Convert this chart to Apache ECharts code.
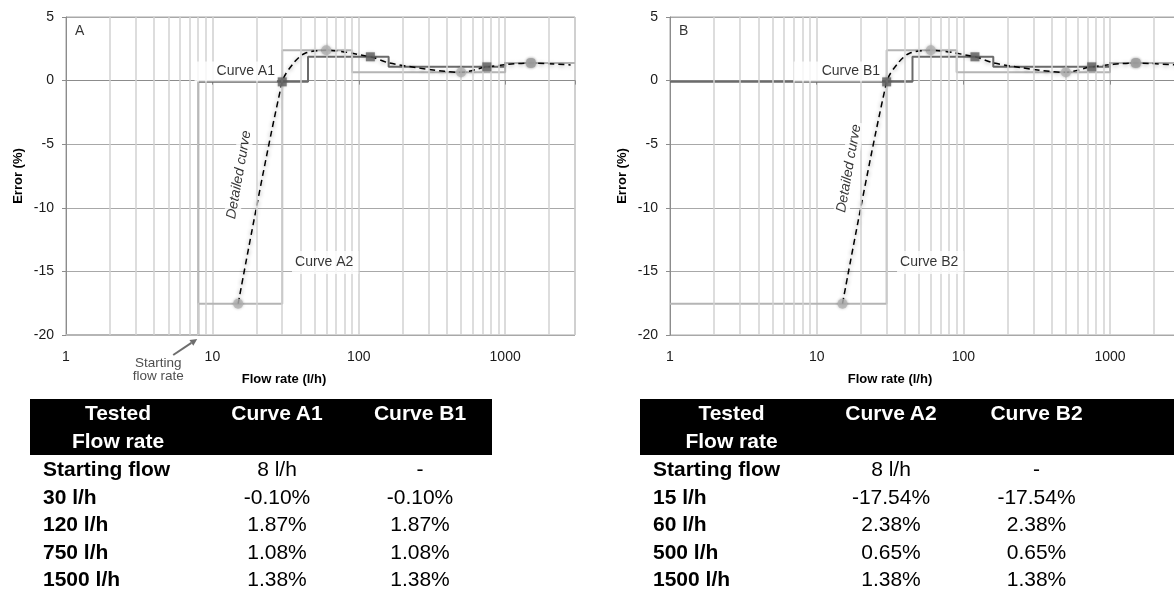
<!DOCTYPE html>
<html>
<head>
<meta charset="utf-8">
<script src="https://cdn.jsdelivr.net/npm/echarts/dist/echarts.min.js"></script>
<style>
html,body{margin:0;padding:0;background:#fff;overflow:hidden;}
#chart{position:absolute;left:0;top:0;width:1174px;height:589px;}
.tbl{position:absolute;top:399px;border-collapse:collapse;table-layout:fixed;font-family:'Liberation Sans',Arial,sans-serif;font-size:21px;color:#000;}
.tbl th{background:#000;color:#fff;font-weight:bold;line-height:28px;height:56px;vertical-align:top;padding:0;text-align:center;white-space:nowrap;}
.tbl td{line-height:27.5px;height:27.5px;padding:0;text-align:center;white-space:nowrap;}
.tbl td.first{text-align:left;padding-left:13px;font-weight:bold;}
</style>
</head>
<body>
<div id="chart"></div>
<table class="tbl" id="tblLeft" style="left:30px;width:462px;"></table>
<table class="tbl" id="tblRight" style="left:640px;width:534px;"></table>
<script>
// ---------- data ----------
const flowLabelTicks = [1, 10, 100, 1000];
const minorFlowGrid = [2,3,4,5,6,7,8,9,20,30,40,50,60,70,80,90,200,300,400,500,600,700,800,900,2000];

// step curves: boundaries (l/h) and error level (%) valid from each boundary
const curveA1Flow = [1, 8, 45, 160, 1000, 3000];
const curveA1Err  = [-20, -0.10, 1.87, 1.08, 1.38, 1.38];
const curveA2Flow = [1, 8, 30, 90, 1000, 3000];
const curveA2Err  = [-20, -17.54, 2.38, 0.65, 1.38, 1.38];
const curveB1Flow = [1, 45, 160, 1000, 3000];
const curveB1Err  = [-0.10, 1.87, 1.08, 1.38, 1.38];
const curveB2Flow = [1, 30, 90, 1000, 3000];
const curveB2Err  = [-17.54, 2.38, 0.65, 1.38, 1.38];

// tested points
const tested1Flow = [30, 120, 750, 1500];
const tested1Err  = [-0.10, 1.87, 1.08, 1.38];
const tested2Flow = [15, 60, 500, 1500];
const tested2Err  = [-17.54, 2.38, 0.65, 1.38];

// detailed curve (tested points plus a few points)
const detailFlow = [15, 30, 36, 43, 60, 120, 160, 300, 500, 750, 1500, 2800];
const detailErr  = [-17.54, -0.10, 1.40, 2.15, 2.38, 1.87, 1.40, 0.88, 0.65, 1.08, 1.38, 1.23];

// tables
const leftHead  = ['Tested<br>Flow rate', 'Curve A1', 'Curve B1'];
const leftRows  = ['Starting flow', '30 l/h', '120 l/h', '750 l/h', '1500 l/h'];
const leftColA  = ['8 l/h', '-0.10%', '1.87%', '1.08%', '1.38%'];
const leftColB  = ['-', '-0.10%', '1.87%', '1.08%', '1.38%'];
const rightHead = ['Tested<br>Flow rate', 'Curve A2', 'Curve B2'];
const rightRows = ['Starting flow', '15 l/h', '60 l/h', '500 l/h', '1500 l/h'];
const rightColA = ['8 l/h', '-17.54%', '2.38%', '0.65%', '1.38%'];
const rightColB = ['-', '-17.54%', '2.38%', '0.65%', '1.38%'];

// ---------- tables ----------
function buildTable(id, widths, head, rows, colA, colB, extra) {
  const t = document.getElementById(id);
  let h = '<colgroup>' + widths.map(w => '<col style="width:' + w + 'px">').join('') + '</colgroup>';
  h += '<tr>' + head.map(x => '<th>' + x + '</th>').join('') + (extra ? '<th></th>' : '') + '</tr>';
  rows.forEach((r, i) => {
    h += '<tr><td class="first">' + r + '</td><td>' + colA[i] + '</td><td>' + colB[i] + '</td>' + (extra ? '<td></td>' : '') + '</tr>';
  });
  t.innerHTML = h;
}
buildTable('tblLeft', [176, 142, 144], leftHead, leftRows, leftColA, leftColB, false);
buildTable('tblRight', [183, 136, 155, 60], rightHead, rightRows, rightColA, rightColB, true);

// ---------- chart ----------
const FONT = "'Liberation Sans', Arial, sans-serif";
const zip = (a, b) => a.map((v, i) => [v, b[i]]);
const chart = echarts.init(document.getElementById('chart'), null, {renderer: 'canvas'});

function xAxisCfg(idx, padRight) {
  return {
    type: 'log', logBase: 10, gridIndex: idx, min: 1, max: 3000,
    name: 'Flow rate (l/h)', nameLocation: 'middle', nameGap: 38,
    nameTextStyle: {fontFamily: FONT, fontWeight: 'bold', fontSize: 13, color: '#000', padding: [0, padRight, 0, 0]},
    axisLine: {show: true, lineStyle: {color: '#8c8c8c', width: 1}},
    axisTick: {show: true, length: 4, lineStyle: {color: '#8c8c8c'}},
    axisLabel: {
      fontFamily: FONT, fontSize: 14, color: '#1a1a1a', margin: 15,
      formatter: v => { const l = Math.log10(v); return Math.abs(l - Math.round(l)) < 1e-6 && flowLabelTicks.includes(Math.round(v)) ? String(Math.round(v)) : ''; }
    },
    splitLine: {show: true, lineStyle: {color: '#cfcfcf', width: 1.5}},
    minorTick: {show: false}, minorSplitLine: {show: false}
  };
}
function yAxisCfg(idx) {
  return {
    type: 'value', gridIndex: idx, min: -20, max: 5, interval: 5,
    name: 'Error (%)', nameLocation: 'middle', nameGap: 41, nameRotate: 90,
    nameTextStyle: {fontFamily: FONT, fontWeight: 'bold', fontSize: 13, color: '#000'},
    axisLine: {show: true, lineStyle: {color: '#8c8c8c', width: 1}},
    axisTick: {show: true, length: 4, lineStyle: {color: '#8c8c8c'}},
    axisLabel: {fontFamily: FONT, fontSize: 14, color: '#1a1a1a', margin: 12},
    splitLine: {show: true, lineStyle: {color: '#a8a8a8', width: 1}}
  };
}

function annotation(idx, items) {
  return {
    type: 'scatter', xAxisIndex: idx, yAxisIndex: idx, z: 10, silent: true,
    symbolSize: 1, itemStyle: {color: 'rgba(0,0,0,0)'},
    data: items.map(it => ({
      value: it.at,
      label: Object.assign({
        show: true, position: 'inside', formatter: it.text,
        fontFamily: FONT, fontSize: 14, color: '#000'
      }, it.style)
    }))
  };
}

function panelSeries(idx, step1F, step1E, step2F, step2E, labels) {
  const ax = {xAxisIndex: idx, yAxisIndex: idx};
  return [
    Object.assign({
      type: 'line', z: 1, silent: true, data: [[1, -20]], showSymbol: false,
      lineStyle: {opacity: 0},
      markLine: {
        silent: true, symbol: ['none', 'none'], animation: false,
        label: {show: false},
        lineStyle: {color: '#d2d2d2', width: 1.5, type: 'solid'},
        data: minorFlowGrid.map(v => ({xAxis: v}))
      }
    }, ax),
    Object.assign({
      type: 'line', step: 'end', z: 3, showSymbol: false, silent: true,
      data: zip(step1F, step1E),
      lineStyle: {color: '#6b6b6b', width: 2}
    }, ax),
    Object.assign({
      type: 'line', step: 'end', z: 3, showSymbol: false, silent: true,
      data: zip(step2F, step2E),
      lineStyle: {color: '#b5b5b5', width: 2}
    }, ax),
    Object.assign({
      type: 'line', smooth: 0.3, z: 4, showSymbol: false, silent: true,
      data: zip(detailFlow, detailErr),
      lineStyle: {color: '#000', width: 1.5, type: [6, 4], shadowColor: 'rgba(0,0,0,0.45)', shadowBlur: 4, shadowOffsetY: 1}
    }, ax),
    Object.assign({
      type: 'scatter', z: 5, symbol: 'circle', symbolSize: 10, silent: true,
      data: zip(tested2Flow, tested2Err),
      itemStyle: {color: '#b3b3b3', shadowColor: 'rgba(0,0,0,0.3)', shadowBlur: 3}
    }, ax),
    Object.assign({
      type: 'scatter', z: 6, symbol: 'rect', symbolSize: 9, silent: true,
      data: zip(tested1Flow, tested1Err).map(p => p[0] === 1500 && p[1] === tested2Err[3]
        ? {value: p, symbol: 'roundRect', itemStyle: {color: '#a4a4a4'}} : {value: p}),
      itemStyle: {color: '#5f5f5f', shadowColor: 'rgba(0,0,0,0.3)', shadowBlur: 3}
    }, ax),
    annotation(idx, labels)
  ];
}

const boxStyle = {backgroundColor: '#fff'};
const labelsA = [
  {at: [1.15, 3.9], text: 'A', style: {align: 'left', verticalAlign: 'middle', fontSize: 14}},
  {at: [27.6, 0.71], text: 'Curve A1', style: Object.assign({align: 'right', verticalAlign: 'middle', padding: [3, 2, 3, 22]}, boxStyle)},
  {at: [35, -14.3], text: 'Curve A2', style: Object.assign({align: 'left', verticalAlign: 'middle', padding: [5, 5, 4, 3]}, boxStyle)},
  {at: [15.2, -7.4], text: 'Detailed curve', style: Object.assign({align: 'center', verticalAlign: 'middle', rotate: 80, fontStyle: 'italic', padding: [1, 2]}, boxStyle)},
  {at: [8, -20], text: 'Starting\nflow rate', style: {align: 'center', verticalAlign: 'middle', offset: [-40, 35], fontSize: 13.5, lineHeight: 13, color: '#222'}}
];
const labelsB = [
  {at: [1.15, 3.9], text: 'B', style: {align: 'left', verticalAlign: 'middle', fontSize: 14}},
  {at: [27.9, 0.71], text: 'Curve B1', style: Object.assign({align: 'right', verticalAlign: 'middle', padding: [3, 2, 3, 28]}, boxStyle)},
  {at: [35.3, -14.3], text: 'Curve B2', style: Object.assign({align: 'left', verticalAlign: 'middle', padding: [5, 5, 4, 3]}, boxStyle)},
  {at: [16.6, -6.9], text: 'Detailed curve', style: Object.assign({align: 'center', verticalAlign: 'middle', rotate: 80, fontStyle: 'italic', padding: [1, 2]}, boxStyle)}
];

const option = {
  animation: false,
  backgroundColor: '#fff',
  textStyle: {fontFamily: FONT},
  grid: [
    {left: 66, top: 17, width: 509, height: 318, show: true, borderColor: '#a8a8a8', borderWidth: 1, backgroundColor: 'transparent', containLabel: false, outerBoundsMode: 'none'},
    {left: 670, top: 17, width: 510, height: 318, show: true, borderColor: '#a8a8a8', borderWidth: 1, backgroundColor: 'transparent', containLabel: false, outerBoundsMode: 'none'}
  ],
  xAxis: [xAxisCfg(0, 73), xAxisCfg(1, 70)],
  yAxis: [yAxisCfg(0), yAxisCfg(1)],
  series: [].concat(
    panelSeries(0, curveA1Flow, curveA1Err, curveA2Flow, curveA2Err, labelsA),
    panelSeries(1, curveB1Flow, curveB1Err, curveB2Flow, curveB2Err, labelsB)
  )
};
chart.setOption(option);

// arrow pointing to the starting flow rate
const p = chart.convertToPixel({xAxisIndex: 0, yAxisIndex: 0}, [curveA1Flow[1], curveA1Err[0]]);
const tip = [p[0] - 1, p[1] + 4];
const tail = [p[0] - 25, p[1] + 20];
const dx = tip[0] - tail[0], dy = tip[1] - tail[1], len = Math.hypot(dx, dy);
const ux = dx / len, uy = dy / len, nx = -uy, ny = ux;
const bx = tip[0] - 7 * ux, by = tip[1] - 7 * uy;
chart.setOption({
  graphic: [
    {type: 'line', shape: {x1: tail[0], y1: tail[1], x2: bx, y2: by}, style: {stroke: '#6e6e6e', lineWidth: 2}, z: 20},
    {type: 'polygon', shape: {points: [tip, [bx + 3.5 * nx, by + 3.5 * ny], [bx - 3.5 * nx, by - 3.5 * ny]]}, style: {fill: '#6e6e6e'}, z: 20}
  ]
});
</script>
</body>
</html>
